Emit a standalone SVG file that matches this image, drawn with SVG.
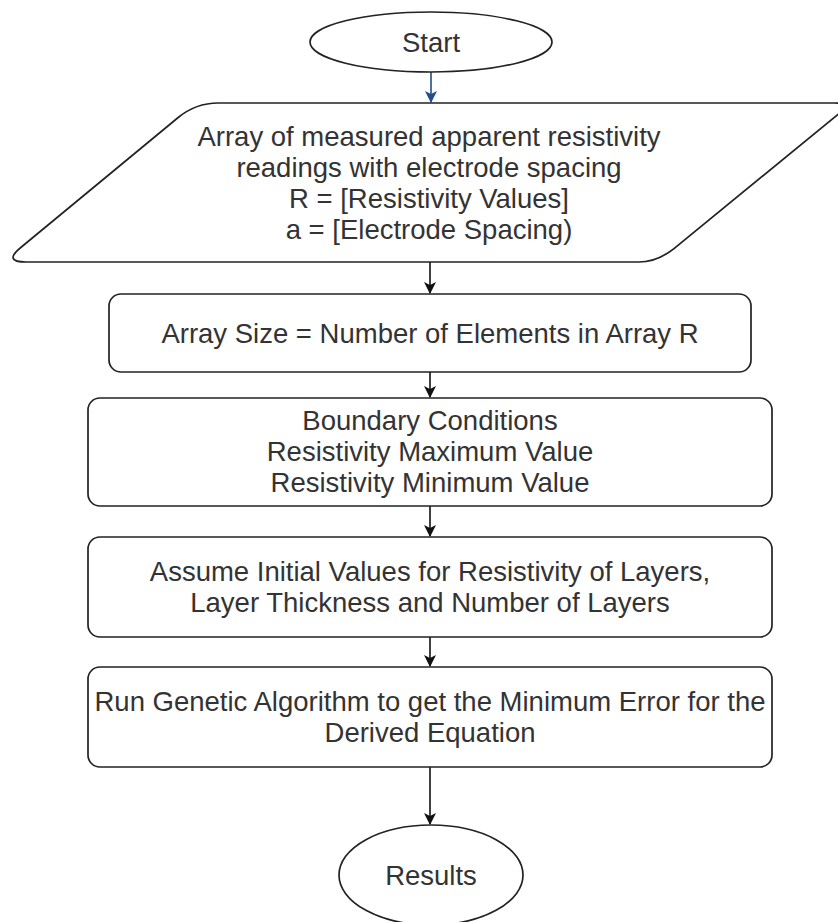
<svg xmlns="http://www.w3.org/2000/svg" width="838" height="922" viewBox="0 0 838 922">
  <style>
    .shape { fill: #ffffff; stroke: #222222; stroke-width: 1.7; }
    .txt { font-family: "Liberation Sans", Arial, sans-serif; font-size: 27.5px; fill: #333333; text-anchor: middle; }
    .edge { fill: none; stroke: #111111; stroke-width: 1.6; }
    .edge-blue { fill: none; stroke: #1f4e8a; stroke-width: 1.6; }
  </style>
  <defs>
    <marker id="arrow" viewBox="0 0 12 12" refX="11" refY="6" markerWidth="12" markerHeight="12" markerUnits="userSpaceOnUse" orient="auto">
      <path d="M0,0 L12,6 L0,12 L3,6 Z" fill="#111111"/>
    </marker>
    <marker id="arrowBlue" viewBox="0 0 12 12" refX="11" refY="6" markerWidth="12" markerHeight="12" markerUnits="userSpaceOnUse" orient="auto">
      <path d="M0,0 L12,6 L0,12 L3,6 Z" fill="#1f4e8a"/>
    </marker>
  </defs>
  <rect width="838" height="922" fill="#ffffff"/>

  <g id="connectors">
    <line class="edge-blue" x1="431" y1="72" x2="431" y2="102" marker-end="url(#arrowBlue)"/>
    <line class="edge" x1="430" y1="262" x2="430" y2="293" marker-end="url(#arrow)"/>
    <line class="edge" x1="430" y1="372" x2="430" y2="397" marker-end="url(#arrow)"/>
    <line class="edge" x1="430" y1="506" x2="430" y2="536" marker-end="url(#arrow)"/>
    <line class="edge" x1="430" y1="637" x2="430" y2="666" marker-end="url(#arrow)"/>
    <line class="edge" x1="430" y1="767" x2="430" y2="824" marker-end="url(#arrow)"/>
  </g>

  <g id="start">
    <ellipse class="shape" cx="431" cy="42" rx="121" ry="30"/>
    <text class="txt" x="431" y="51.5">Start</text>
  </g>

  <g id="input">
    <path class="shape" d="M218,103 L834,103 Q852,103 838,114.4 L674,248.6 Q657,262 639,262 L26,262 Q3,262 20.8,247.5 L178.2,117.5 Q196,103 218,103 Z"/>
    <text class="txt" x="429" y="145.5">Array of measured apparent resistivity</text>
    <text class="txt" x="429" y="176.5">readings with electrode spacing</text>
    <text class="txt" x="429" y="207.5">R = [Resistivity Values]</text>
    <text class="txt" x="429" y="238.5">a = [Electrode Spacing)</text>
  </g>

  <g id="arraysize">
    <rect class="shape" x="109" y="294" width="642" height="78" rx="12" ry="12"/>
    <text class="txt" x="430" y="342.5">Array Size = Number of Elements in Array R</text>
  </g>

  <g id="boundary">
    <rect class="shape" x="88" y="398" width="684" height="108" rx="12" ry="12"/>
    <text class="txt" x="430" y="430">Boundary Conditions</text>
    <text class="txt" x="430" y="461">Resistivity Maximum Value</text>
    <text class="txt" x="430" y="492">Resistivity Minimum Value</text>
  </g>

  <g id="assume">
    <rect class="shape" x="88" y="537" width="684" height="100" rx="12" ry="12"/>
    <text class="txt" x="430" y="581">Assume Initial Values for Resistivity of Layers,</text>
    <text class="txt" x="430" y="612">Layer Thickness and Number of Layers</text>
  </g>

  <g id="genetic">
    <rect class="shape" x="88" y="667" width="684" height="100" rx="12" ry="12"/>
    <text class="txt" x="430" y="711">Run Genetic Algorithm to get the Minimum Error for the</text>
    <text class="txt" x="430" y="742">Derived Equation</text>
  </g>

  <g id="results">
    <ellipse class="shape" cx="431" cy="875" rx="92" ry="50"/>
    <text class="txt" x="431" y="884.5">Results</text>
  </g>
</svg>
